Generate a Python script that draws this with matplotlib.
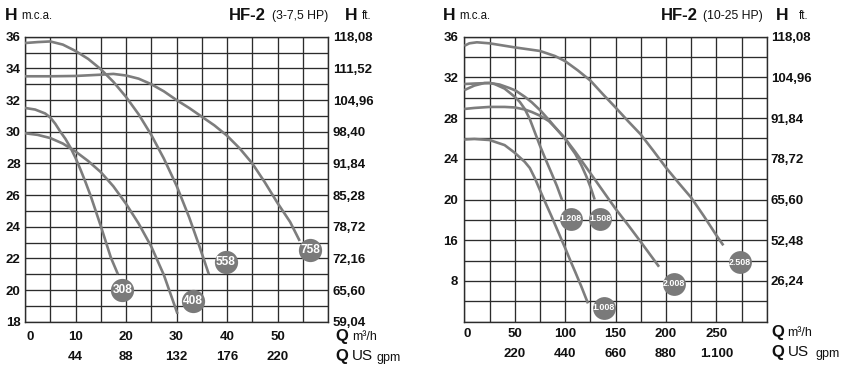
import numpy as np
import matplotlib
matplotlib.use("Agg")
import matplotlib.pyplot as plt
from matplotlib.transforms import blended_transform_factory, offset_copy

plt.rcParams['font.family'] = ['Liberation Sans', 'DejaVu Sans']

# ---------------- data: left chart HF-2 (3-7,5 HP) ----------------
l308_q = [0, 2, 4, 5, 6, 7, 8, 9, 10, 11, 12, 13, 14, 15, 16, 17, 18.4]
l308_h = [31.5, 31.4, 31.15, 30.9, 30.5, 30.0, 29.55, 29.0, 28.35, 27.6, 26.8, 25.95, 25.0, 24.05, 23.05, 22.05, 21.0]
l408_q = [0, 2.5, 5, 7.5, 10, 12.5, 15, 17.5, 20, 22.5, 25, 27.5, 30.2]
l408_h = [29.9, 29.8, 29.6, 29.25, 28.75, 28.15, 27.45, 26.55, 25.45, 24.2, 22.75, 20.95, 18.5]
l558_q = [0, 2.5, 5, 7.5, 10, 12.5, 15, 17.5, 20, 22.5, 25, 27.5, 30, 32.5, 34.5, 36.4]
l558_h = [35.6, 35.66, 35.7, 35.5, 35.1, 34.6, 33.95, 33.15, 32.2, 31.1, 29.8, 28.3, 26.6, 24.6, 22.8, 21.0]
l758_q = [0, 5, 10, 15, 17.5, 20, 22.5, 25, 27.5, 30, 32.5, 35, 37.5, 40, 42.5, 45, 47.5, 50, 52.5, 54.4]
l758_h = [33.5, 33.5, 33.52, 33.6, 33.65, 33.55, 33.35, 33.0, 32.55, 32.0, 31.5, 30.95, 30.4, 29.75, 28.95, 28.0, 26.8, 25.5, 24.3, 23.1]
left_models = ['308', '408', '558', '758']
left_badge_q = [19.3, 33.3, 39.8, 56.5]
left_badge_h = [20.0, 19.3, 21.8, 22.5]

left_xticks = [0, 10, 20, 30, 40, 50]
left_gpm_pos = [10, 20, 30, 40, 50]
left_gpm_labels = ['44', '88', '132', '176', '220']
left_yticks = [18, 20, 22, 24, 26, 28, 30, 32, 34, 36]
left_ft_labels = ['59,04', '65,60', '72,16', '78,72', '85,28', '91,84', '98,40', '104,96', '111,52', '118,08']

# ---------------- data: right chart HF-2 (10-25 HP) ----------------
r1008_q = [0, 10, 25, 40, 50, 60, 65, 70, 76, 80, 86.5, 90, 96.4, 100, 106.2, 110, 116, 122.7]
r1008_h = [25.9, 25.95, 25.85, 25.35, 24.6, 23.7, 23.1, 22.1, 20.7, 19.8, 18.36, 17.55, 16.07, 14.5, 11.54, 9.8, 6.96, 3.6]
r1208_q = [0, 10, 20, 25, 30, 40, 50, 55, 60, 65, 70, 75, 80, 86.5, 92, 97]
r1208_h = [30.75, 31.2, 31.45, 31.45, 31.35, 30.9, 30.1, 29.6, 28.9, 27.9, 26.6, 25.3, 24.1, 22.6, 21.3, 19.95]
r1508_q = [0, 10, 25, 35, 45, 51, 60, 67, 76, 85, 90, 95, 100, 105, 110, 116, 121, 125.3, 129.3]
r1508_h = [31.35, 31.4, 31.45, 31.3, 30.95, 30.7, 30.1, 29.55, 28.7, 27.7, 27.1, 26.55, 26.0, 25.2, 24.5, 23.4, 22.3, 21.2, 20.0]
r2008_q = [0, 10, 25, 40, 50, 60, 67, 76, 84, 90, 100, 110, 120, 130, 140, 150, 162.5, 175, 185, 193.2]
r2008_h = [28.9, 29.0, 29.1, 29.1, 29.05, 28.85, 28.6, 28.2, 27.7, 27.1, 26.0, 24.7, 23.3, 21.9, 20.5, 19.1, 17.5, 15.7, 13.0, 10.8]
r2508_q = [0, 5, 12.5, 25, 50, 75, 90, 100, 112.5, 125, 137.5, 150, 162.5, 175, 187.5, 200, 212.5, 225, 237.5, 250, 257]
r2508_h = [35.1, 35.35, 35.45, 35.35, 34.95, 34.6, 34.1, 33.6, 32.7, 31.7, 30.35, 29.05, 27.7, 26.4, 24.8, 23.15, 21.65, 20.2, 18.4, 16.5, 15.0]
right_models = ['1.208', '1.508', '1.008', '2.008', '2.508']
right_badge_q = [105.6, 134.9, 138.3, 207.8, 273.5]
right_badge_h = [18.1, 18.1, 2.7, 7.5, 11.7]

right_xticks = [0, 50, 100, 150, 200, 250]
right_gpm_pos = [50, 100, 150, 200, 250]
right_gpm_labels = ['220', '440', '660', '880', '1.100']
right_yticks = [8, 16, 20, 24, 28, 32, 36]
right_ygrid_minor = [0, 4, 12, 18, 22, 26, 30, 34]
right_ft_labels = ['26,24', '52,48', '65,60', '78,72', '91,84', '104,96', '118,08']

# ---------------- styling ----------------
W, H = 850, 370
CURVE = '#7d7d7d'
BADGE = '#7a7a7a'
GRID = '#2c2c2c'
TXT = '#111111'

fig = plt.figure(figsize=(W / 100, H / 100), dpi=100)
fig.patch.set_facecolor('white')


def fx(x):
    return x / W


def fy(y):
    return 1 - y / H


def fwd(y):
    y = np.asarray(y, dtype=float)
    return np.where(y >= 16, y, 8 + y / 2)


def inv(f):
    f = np.asarray(f, dtype=float)
    return np.where(f >= 16, f, (f - 8) * 2)


def style_axes(ax):
    for s in ax.spines.values():
        s.set_color(GRID)
        s.set_linewidth(1.0)
    ax.grid(True, which='both', color=GRID, linewidth=0.95)
    ax.set_axisbelow(True)
    ax.tick_params(which='both', length=0)


def xlabels(ax, ticks, y_px, zero_shift):
    tr = blended_transform_factory(ax.transData, fig.transFigure)
    for t in ticks:
        trans = offset_copy(tr, fig=fig, x=zero_shift if t == 0 else 0, units='dots')
        ax.text(t, fy(y_px), str(t), transform=trans, ha='center', va='center',
                fontsize=9.5, fontweight='bold', color=TXT)


# ---------------- left axes ----------------
axL = fig.add_axes([fx(25), fy(321.7), fx(303), 285 / H])
axL.set_xlim(0, 60)
axL.set_ylim(18, 36)
axL.set_xticks(left_xticks)
axL.set_xticks(np.arange(0, 61, 5), minor=True)
axL.set_yticks(left_yticks)
axL.set_yticks(np.arange(18, 37, 1), minor=True)
style_axes(axL)
axL.set_xticklabels([])
axL.set_yticklabels([str(v) for v in left_yticks], fontsize=9.5, fontweight='bold', color=TXT)
axL.tick_params(axis='y', pad=3.1)
xlabels(axL, left_xticks, 336.7, 5)

for q, h in [(l308_q, l308_h), (l408_q, l408_h), (l558_q, l558_h), (l758_q, l758_h)]:
    axL.plot(q, h, color=CURVE, lw=1.9, solid_capstyle='butt', zorder=3, clip_on=False)
axL.scatter(left_badge_q, left_badge_h, s=280, color=BADGE, zorder=4, clip_on=False, linewidths=0)
for m, q, h in zip(left_models, left_badge_q, left_badge_h):
    axL.text(q, h, m, ha='center', va='center', color='white', fontsize=8.6,
             fontweight='bold', zorder=5)

axLr = axL.twinx()
axLr.set_ylim(18, 36)
axLr.set_yticks(left_yticks)
axLr.set_yticklabels(left_ft_labels, fontsize=9.5, fontweight='bold', color=TXT)
axLr.tick_params(length=0, pad=3.4)
for s in axLr.spines.values():
    s.set_visible(False)

trL = blended_transform_factory(axL.transData, fig.transFigure)
for p, lab in zip(left_gpm_pos, left_gpm_labels):
    axL.text(p, fy(356.5), lab, transform=trL, ha='center', va='center',
             fontsize=9.5, fontweight='bold', color=TXT)

# ---------------- right axes ----------------
axR = fig.add_axes([fx(464.3), fy(321.7), fx(302.4), 285 / H])
axR.set_yscale('function', functions=(fwd, inv))
axR.set_xlim(0, 300)
axR.set_ylim(0, 36)
axR.set_xticks(right_xticks)
axR.set_xticks(np.arange(0, 301, 25), minor=True)
axR.set_yticks(right_yticks)
axR.set_yticks(right_ygrid_minor, minor=True)
style_axes(axR)
axR.set_xticklabels([])
axR.set_yticklabels([str(v) for v in right_yticks], fontsize=9.5, fontweight='bold', color=TXT)
axR.yaxis.set_minor_formatter(plt.NullFormatter())
axR.tick_params(axis='y', pad=4.3)
xlabels(axR, right_xticks, 334, 2.5)

for q, h in [(r1008_q, r1008_h), (r1208_q, r1208_h), (r1508_q, r1508_h),
             (r2008_q, r2008_h), (r2508_q, r2508_h)]:
    axR.plot(q, h, color=CURVE, lw=1.9, solid_capstyle='butt', zorder=3)
axR.scatter(right_badge_q, right_badge_h, s=270, color=BADGE, zorder=4, linewidths=0)
for m, q, h in zip(right_models, right_badge_q, right_badge_h):
    axR.text(q, h, m, ha='center', va='center', color='white', fontsize=6.4,
             fontweight='bold', zorder=5)

axRr = axR.twinx()
axRr.set_yscale('function', functions=(fwd, inv))
axRr.set_ylim(0, 36)
axRr.set_yticks(right_yticks)
axRr.set_yticklabels(right_ft_labels, fontsize=9.5, fontweight='bold', color=TXT)
axRr.yaxis.set_minor_locator(plt.NullLocator())
axRr.yaxis.set_minor_formatter(plt.NullFormatter())
axRr.tick_params(length=0, pad=2.9)
for s in axRr.spines.values():
    s.set_visible(False)

trR = blended_transform_factory(axR.transData, fig.transFigure)
for p, lab in zip(right_gpm_pos, right_gpm_labels):
    axR.text(p, fy(354), lab, transform=trR, ha='center', va='center',
             fontsize=9.5, fontweight='bold', color=TXT)

# ---------------- headers ----------------
def ftxt(x, y, s, size, bold=False):
    fig.text(fx(x), fy(y), s, ha='left', va='center', fontsize=size,
             fontweight='bold' if bold else 'normal', color=TXT)

# left header
ftxt(5, 15, 'H', 12.5, True)
ftxt(21, 16, 'm.c.a.', 8.3)
ftxt(229, 15, 'HF-2', 12, True)
ftxt(272, 16, '(3-7,5 HP)', 8.8)
ftxt(345, 15, 'H', 12.5, True)
ftxt(362, 16, 'ft.', 8.3)
# right header
ftxt(442.5, 15, 'H', 12.5, True)
ftxt(459, 16, 'm.c.a.', 8.3)
ftxt(660.5, 15, 'HF-2', 12, True)
ftxt(703, 16, '(10-25 HP)', 8.8)
ftxt(776, 15, 'H', 12.5, True)
ftxt(799, 16, 'ft.', 8.3)

# axis unit labels (left)
ftxt(335, 336.5, 'Q', 12, True)
ftxt(352, 337.5, 'm³/h', 9)
ftxt(335, 356, 'Q', 12, True)
ftxt(351.5, 356, 'US', 11)
ftxt(376.5, 357.5, 'gpm', 9)
# axis unit labels (right)
ftxt(771.5, 332, 'Q', 12, True)
ftxt(787, 333, 'm³/h', 9)
ftxt(771.5, 352.5, 'Q', 12, True)
ftxt(788, 352.5, 'US', 11)
ftxt(815, 354, 'gpm', 9)

fig.savefig('out.png', dpi=100, facecolor='white')
